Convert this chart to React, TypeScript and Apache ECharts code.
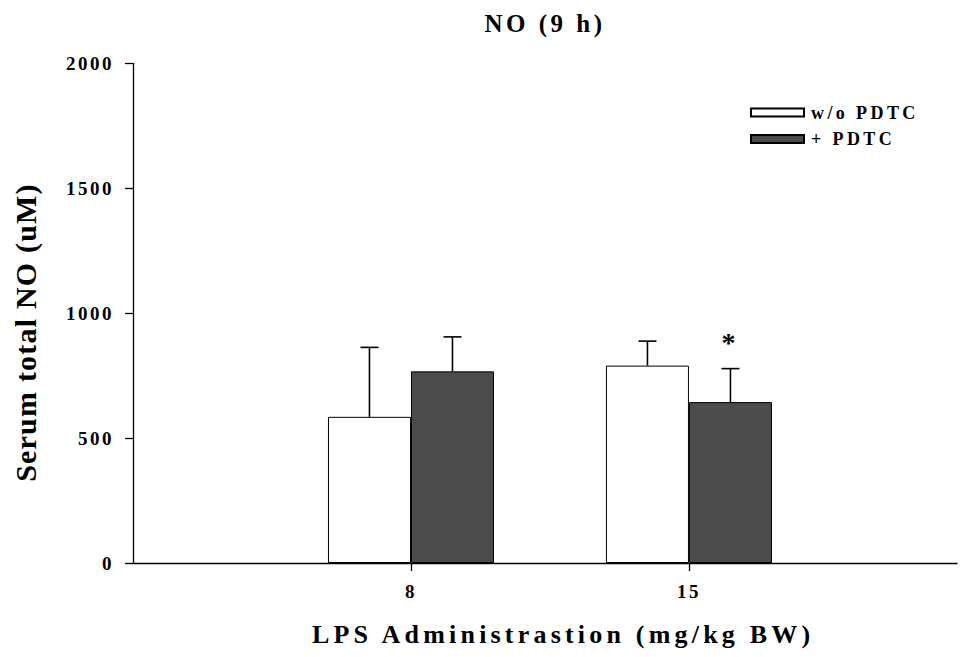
import React, { useEffect, useRef } from "react";
import * as echarts from "echarts";

// ---- data ----
const doses = [8, 15];
const seriesNames = ["w/o PDTC", "+ PDTC"];
const withoutPDTC = [585, 790];
const withoutPDTCUpper = [863, 888];
const withPDTC = [767, 644];
const withPDTCUpper = [905, 778];
const significanceWith = ["", "*"];
const yTicks = [0, 500, 1000, 1500, 2000];
const titleText = "NO (9 h)";
const xName = "LPS Administrastion (mg/kg BW)";
const yName = "Serum total NO (uM)";

const FONT = "'Liberation Serif', 'Times New Roman', serif";
const BAR_W = 83;
const DARK = "#4b4b4b";

const spacingMap: Record<string, number> = {
  [titleText]: 3.5,
  [xName]: 4.2,
  [yName]: 1.2,
  "w/o PDTC": 3.4,
  "+ PDTC": 3.4,
};
yTicks.forEach((t) => (spacingMap[String(t)] = 2.5));
doses.forEach((d) => (spacingMap[String(d)] = 2.5));

function applySpacing(root: HTMLElement) {
  root.querySelectorAll("text").forEach((t) => {
    const s = spacingMap[(t.textContent || "").trim()];
    if (s != null) (t as SVGTextElement).style.letterSpacing = s + "px";
  });
}

function errorSeries(name: string, means: number[], uppers: number[], sign: number, marks: string[]) {
  return {
    type: "custom",
    name: name + " error",
    z: 5,
    silent: true,
    data: doses.map((d, i) => [d, means[i], uppers[i]]),
    encode: { x: 0, y: [1, 2] },
    renderItem: (params: any, api: any) => {
      const x = api.value(0);
      const p0 = api.coord([x, api.value(1)]);
      const p1 = api.coord([x, api.value(2)]);
      const cx = p0[0] + (sign * BAR_W) / 2;
      const st = { stroke: "#000", lineWidth: 1.6 };
      const children: any[] = [
        { type: "line", shape: { x1: cx, y1: p0[1], x2: cx, y2: p1[1] }, style: st },
        { type: "line", shape: { x1: cx - 9, y1: p1[1], x2: cx + 9, y2: p1[1] }, style: st },
      ];
      const m = marks[params.dataIndex];
      if (m) {
        children.push({
          type: "text",
          x: cx - 2,
          y: p1[1] - 26,
          style: {
            text: m,
            font: "bold 28px " + FONT,
            fill: "#000",
            textAlign: "center",
            textVerticalAlign: "middle",
            align: "center",
            verticalAlign: "middle",
          },
        });
      }
      return { type: "group", children };
    },
  };
}

export default function App() {
  const ref = useRef<HTMLDivElement>(null);
  useEffect(() => {
    document.body.style.margin = "0";
    if (!ref.current) return;
    const chart = echarts.init(ref.current, undefined, { renderer: "svg" });
    const axisLine = { show: true, lineStyle: { color: "#000", width: 1.3 } };
    const labelStyle = { color: "#000", fontFamily: FONT, fontWeight: "bold" as const, fontSize: 19 };
    chart.setOption({
      animation: false,
      backgroundColor: "#fff",
      grid: { left: 133, right: 3, top: 63.3, bottom: 94, containLabel: false, outerBoundsMode: "none" },
      legend: {
        data: seriesNames,
        orient: "vertical",
        left: 750,
        top: 103.5,
        padding: 0,
        itemWidth: 53,
        itemHeight: 8,
        itemGap: 8.5,
        icon: "rect",
        selectedMode: false,
        textStyle: { color: "#000", fontFamily: FONT, fontWeight: "bold", fontSize: 18, lineHeight: 16, padding: [0, 0, 0, 2] },
      },
      xAxis: {
        type: "value",
        min: 1,
        max: 21.75,
        axisLine,
        splitLine: { show: false },
        axisTick: { show: true, length: 8, lineStyle: { color: "#000", width: 1.3 }, customValues: doses },
        axisLabel: {
          ...labelStyle,
          customValues: doses,
          margin: 28,
          verticalAlign: "middle",
          formatter: (v: number) => (doses.includes(v) ? String(v) : ""),
        },
      },
      yAxis: {
        type: "value",
        min: 0,
        max: 2000,
        interval: 500,
        axisLine,
        splitLine: { show: false },
        axisTick: { show: true, length: 8, lineStyle: { color: "#000", width: 1.3 } },
        axisLabel: { ...labelStyle, margin: 19, formatter: (v: number) => String(v) },
      },
      graphic: [
        {
          type: "text",
          x: 545,
          y: 23,
          style: { text: titleText, font: "bold 25px " + FONT, fill: "#000", textAlign: "center", textVerticalAlign: "middle" },
        },
        {
          type: "text",
          x: 312,
          y: 634.5,
          style: { text: xName, font: "bold 26px " + FONT, fill: "#000", textAlign: "left", textVerticalAlign: "middle" },
        },
        {
          type: "text",
          x: 25,
          y: 332.5,
          rotation: Math.PI / 2,
          style: { text: yName, font: "bold 30px " + FONT, fill: "#000", textAlign: "center", textVerticalAlign: "middle" },
        },
      ],
      series: [
        {
          type: "bar",
          name: seriesNames[0],
          barWidth: BAR_W,
          barGap: "0%",
          data: doses.map((d, i) => [d, withoutPDTC[i]]),
          itemStyle: { color: "#fff", borderColor: "#000", borderWidth: 1 },
        },
        {
          type: "bar",
          name: seriesNames[1],
          barWidth: BAR_W,
          barGap: "0%",
          data: doses.map((d, i) => [d, withPDTC[i]]),
          itemStyle: { color: DARK, borderColor: "#000", borderWidth: 1 },
        },
        errorSeries(seriesNames[0], withoutPDTC, withoutPDTCUpper, -1, ["", ""]),
        errorSeries(seriesNames[1], withPDTC, withPDTCUpper, 1, significanceWith),
      ],
    });
    const el = ref.current;
    applySpacing(el);
    const onFinished = () => applySpacing(el);
    chart.on("finished", onFinished);
    return () => {
      chart.off("finished", onFinished);
      chart.dispose();
    };
  }, []);
  return <div ref={ref} style={{ width: 960, height: 657 }} />;
}
